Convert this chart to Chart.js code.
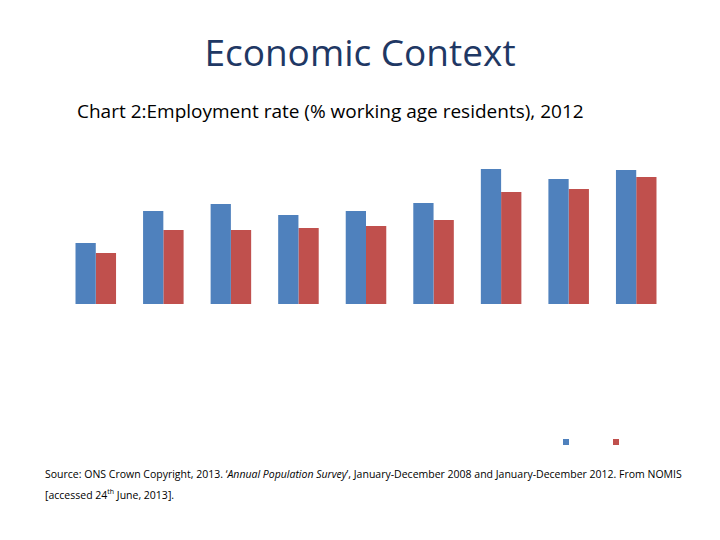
<!DOCTYPE html>
<html>
<head>
<meta charset="utf-8">
<script src="https://cdn.jsdelivr.net/npm/chart.js@4"></script>
<style>
  body { margin: 0; width: 720px; height: 540px; background: #fff; position: relative; font-family: "Open Sans", "DejaVu Sans", sans-serif; }
  #title { position: absolute; top: 26px; width: 720px; text-align: center; font-size: 37px; color: #1f3864; }
  #sub { position: absolute; top: 98px; left: 77px; font-size: 19px; color: #000; }
  #src { position: absolute; top: 466px; left: 45px; width: 640px; font-size: 10.5px; line-height: 17px; color: #000; }
  #wrap { position: absolute; left: 0; top: 140px; width: 720px; height: 320px; }
</style>
</head>
<body>
<div id="title">Economic Context</div>
<div id="sub">Chart 2:Employment rate (% working age residents), 2012</div>
<div id="wrap"><canvas id="c"></canvas></div>
<div id="src">Source: ONS Crown Copyright, 2013. ‘<i>Annual Population Survey</i>’, January-December 2008 and January-December 2012. From NOMIS [accessed 24<sup style="font-size:7px">th</sup> June, 2013].</div>
<script>
const categories = ['1', '2', '3', '4', '5', '6', '7', '8', '9']
// heights (no axis shown in the reference)
const series2008 = [61, 93, 100, 89, 93, 101, 135, 125, 134]
const series2012 = [51, 74, 74, 76, 78, 84, 112, 115, 127]
const colors = ['#4f81bd', '#c0504d']

const markerLegend = {
  id: 'markerLegend',
  afterDraw(chart) {
    const ctx = chart.ctx
    const xs = [566, 616]
    chart.data.datasets.forEach((ds, i) => {
      ctx.fillStyle = ds.backgroundColor
      ctx.fillRect(xs[i] - 3, 299, 6, 6)
    })
  },
}

new Chart(document.getElementById('c'), {
  type: 'bar',
  data: {
    labels: categories,
    datasets: [
      { label: '2008', data: series2008, backgroundColor: colors[0] },
      { label: '2012', data: series2012, backgroundColor: colors[1] },
    ],
  },
  options: {
    responsive: true,
    maintainAspectRatio: false,
    animation: false,
    layout: { padding: { left: 62, right: 50, top: 20, bottom: 156 } },
    datasets: { bar: { categoryPercentage: 0.6, barPercentage: 1 } },
    plugins: { legend: { display: false }, tooltip: { enabled: false } },
    scales: {
      x: { display: false },
      y: { display: false, min: 0, max: 144 },
    },
  },
  plugins: [markerLegend],
})
</script>
</body>
</html>
